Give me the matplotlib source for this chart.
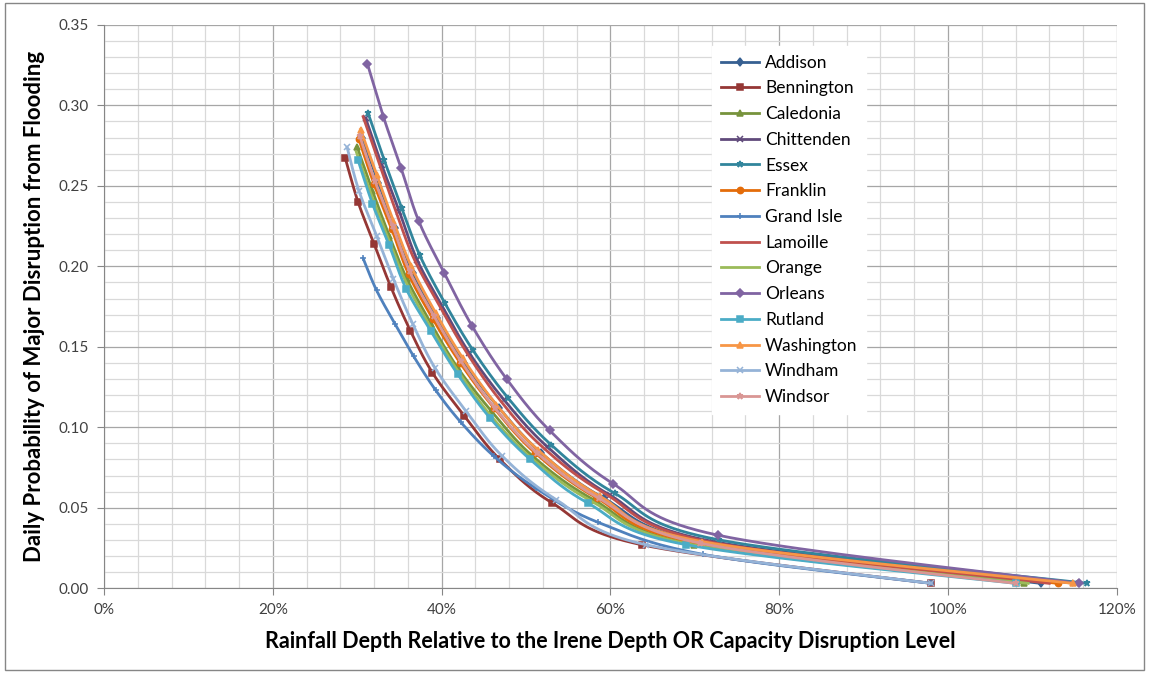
import numpy as np
import matplotlib
matplotlib.use('Agg')
import matplotlib.pyplot as plt
from matplotlib.ticker import MultipleLocator, FuncFormatter
from matplotlib.patches import Rectangle

plt.rcParams['font.family'] = ['Lato', 'DejaVu Sans']

## Dados (x = fracao da chuva do Irene, y = probabilidade diaria)

counties = ['Addison', 'Bennington', 'Caledonia', 'Chittenden', 'Essex', 'Franklin',
            'Grand Isle', 'Lamoille', 'Orange', 'Orleans', 'Rutland', 'Washington',
            'Windham', 'Windsor']

x_addison = [0.306, 0.325, 0.345, 0.366, 0.395, 0.427, 0.468, 0.518, 0.592, 0.713, 1.110]
y_addison = [0.280, 0.252, 0.224, 0.196, 0.168, 0.140, 0.112, 0.084, 0.056, 0.028, 0.003]

x_bennington = [0.286, 0.301, 0.320, 0.340, 0.363, 0.389, 0.427, 0.469, 0.531, 0.637, 0.980]
y_bennington = [0.267, 0.240, 0.214, 0.187, 0.160, 0.134, 0.107, 0.080, 0.053, 0.027, 0.003]

x_caledonia = [0.300, 0.318, 0.338, 0.359, 0.388, 0.419, 0.459, 0.508, 0.580, 0.699, 1.090]
y_caledonia = [0.274, 0.247, 0.219, 0.192, 0.164, 0.137, 0.110, 0.082, 0.055, 0.027, 0.003]

x_chittenden = [0.310, 0.329, 0.350, 0.371, 0.401, 0.433, 0.474, 0.525, 0.599, 0.722, 1.150]
y_chittenden = [0.292, 0.263, 0.234, 0.204, 0.175, 0.146, 0.117, 0.088, 0.058, 0.029, 0.003]

x_essex = [0.313, 0.332, 0.353, 0.374, 0.404, 0.437, 0.479, 0.530, 0.605, 0.729, 1.165]
y_essex = [0.295, 0.266, 0.236, 0.207, 0.177, 0.148, 0.118, 0.089, 0.059, 0.030, 0.003]

x_franklin = [0.302, 0.320, 0.341, 0.361, 0.390, 0.422, 0.462, 0.511, 0.584, 0.704, 1.130]
y_franklin = [0.279, 0.251, 0.223, 0.195, 0.167, 0.140, 0.112, 0.084, 0.056, 0.028, 0.003]

x_grandisle = [0.307, 0.323, 0.345, 0.367, 0.393, 0.423, 0.462, 0.512, 0.585, 0.710, 0.980]
y_grandisle = [0.205, 0.185, 0.164, 0.144, 0.123, 0.103, 0.082, 0.062, 0.041, 0.021, 0.003]

x_lamoille = [0.307, 0.326, 0.346, 0.367, 0.397, 0.429, 0.469, 0.519, 0.593, 0.715, 1.120]
y_lamoille = [0.293, 0.264, 0.234, 0.205, 0.176, 0.147, 0.117, 0.088, 0.059, 0.029, 0.003]

x_orange = [0.299, 0.317, 0.337, 0.358, 0.386, 0.418, 0.457, 0.506, 0.578, 0.697, 1.095]
y_orange = [0.271, 0.244, 0.217, 0.190, 0.163, 0.136, 0.108, 0.081, 0.054, 0.027, 0.003]

x_orleans = [0.312, 0.331, 0.352, 0.373, 0.403, 0.436, 0.477, 0.528, 0.603, 0.727, 1.155]
y_orleans = [0.326, 0.293, 0.261, 0.228, 0.196, 0.163, 0.130, 0.098, 0.065, 0.033, 0.003]

x_rutland = [0.301, 0.318, 0.338, 0.358, 0.387, 0.419, 0.457, 0.505, 0.573, 0.690, 1.080]
y_rutland = [0.266, 0.239, 0.213, 0.186, 0.160, 0.133, 0.106, 0.080, 0.053, 0.027, 0.003]

x_washington = [0.304, 0.323, 0.343, 0.364, 0.393, 0.425, 0.465, 0.514, 0.588, 0.708, 1.148]
y_washington = [0.285, 0.257, 0.228, 0.200, 0.171, 0.143, 0.114, 0.086, 0.057, 0.029, 0.003]

x_windham = [0.288, 0.302, 0.323, 0.343, 0.366, 0.392, 0.429, 0.472, 0.536, 0.642, 0.980]
y_windham = [0.274, 0.247, 0.219, 0.192, 0.164, 0.137, 0.110, 0.082, 0.055, 0.027, 0.003]

x_windsor = [0.303, 0.321, 0.342, 0.362, 0.391, 0.423, 0.463, 0.513, 0.586, 0.706, 1.080]
y_windsor = [0.281, 0.253, 0.225, 0.197, 0.169, 0.141, 0.112, 0.084, 0.056, 0.028, 0.003]

series_x = [x_addison, x_bennington, x_caledonia, x_chittenden, x_essex, x_franklin,
            x_grandisle, x_lamoille, x_orange, x_orleans, x_rutland, x_washington,
            x_windham, x_windsor]
series_y = [y_addison, y_bennington, y_caledonia, y_chittenden, y_essex, y_franklin,
            y_grandisle, y_lamoille, y_orange, y_orleans, y_rutland, y_washington,
            y_windham, y_windsor]

cores = ['#376092', '#953735', '#77933C', '#604A7B', '#31859C', '#E46C0A', '#4F81BD',
         '#C0504D', '#9BBB59', '#8064A2', '#4BACC6', '#F79646', '#95B3D7', '#D99694']
marcadores = ['d', 's', '^', 'x', '*', 'o', '+', 'None', 'None', 'D', 's', '^', 'x', '*']
tamanhos = [4.5, 4.5, 4.5, 4.5, 5, 4.5, 5, 4, 4, 4, 4.5, 4.5, 4.5, 5]


def suaviza(xs, ys, n=20):
    # linha suavizada tipo Excel (Catmull-Rom)
    p = np.column_stack([xs, ys])
    p = np.vstack([p[0], p, p[-1]])
    out = []
    t = np.linspace(0, 1, n, endpoint=False)
    for i in range(1, len(p) - 2):
        p0, p1, p2, p3 = p[i - 1], p[i], p[i + 1], p[i + 2]
        c1 = p1 + (p2 - p0) / 6
        c2 = p2 - (p3 - p1) / 6
        for tt in t:
            b = ((1 - tt) ** 3) * p1 + 3 * ((1 - tt) ** 2) * tt * c1 + 3 * (1 - tt) * tt ** 2 * c2 + tt ** 3 * p2
            out.append(b)
    out.append(p[-2])
    out = np.array(out)
    return out[:, 0], out[:, 1], list(range(0, len(out), n))


fig = plt.figure(figsize=(11.49, 6.73), dpi=100)
ax = fig.add_axes([0.0905, 0.126, 0.8815, 0.837])

for nome, xs, ys, cor, mk, ms in zip(counties, series_x, series_y, cores, marcadores, tamanhos):
    sx, sy, idx = suaviza(xs, ys)
    ax.plot(sx, sy, color=cor, lw=2.0, marker=mk, markevery=idx, markersize=ms,
            markeredgewidth=1.1, label=nome)

ax.set_xlim(0, 1.2)
ax.set_ylim(0, 0.35)
ax.xaxis.set_major_locator(MultipleLocator(0.2))
ax.xaxis.set_minor_locator(MultipleLocator(0.04))
ax.yaxis.set_major_locator(MultipleLocator(0.05))
ax.yaxis.set_minor_locator(MultipleLocator(0.01))
ax.xaxis.set_major_formatter(FuncFormatter(lambda v, p: '{:.0f}%'.format(v * 100)))
ax.yaxis.set_major_formatter(FuncFormatter(lambda v, p: '{:.2f}'.format(v)))
ax.grid(which='major', color='#a6a6a6', lw=0.9)
ax.grid(which='minor', color='#d9d9d9', lw=0.9)
ax.set_axisbelow(True)
for s in ['top', 'right']:
    ax.spines[s].set_visible(False)
for s in ['left', 'bottom']:
    ax.spines[s].set_color('#868686')
ax.tick_params(which='major', length=5, color='#868686', labelsize=11, labelcolor='#404040', pad=6)
ax.tick_params(which='minor', length=0)

ax.set_xlabel('Rainfall Depth Relative to the Irene Depth OR Capacity Disruption Level',
              fontsize=15.5, fontweight='bold', labelpad=10)
ax.set_ylabel('Daily Probability of Major Disruption from Flooding',
              fontsize=16, fontweight='bold', labelpad=10)

leg = ax.legend(loc='upper left', bbox_to_anchor=(0.592, 0.978), frameon=True, fancybox=False,
                edgecolor='white', facecolor='white', framealpha=1, fontsize=12.5,
                handlelength=2.2, handletextpad=0.35, labelspacing=0.56, borderpad=0.5)

fig.patches.append(Rectangle((0.004, 0.004), 0.992, 0.992, transform=fig.transFigure,
                             fill=False, edgecolor='#868686', lw=1))

plt.savefig('out.png', dpi=100)
